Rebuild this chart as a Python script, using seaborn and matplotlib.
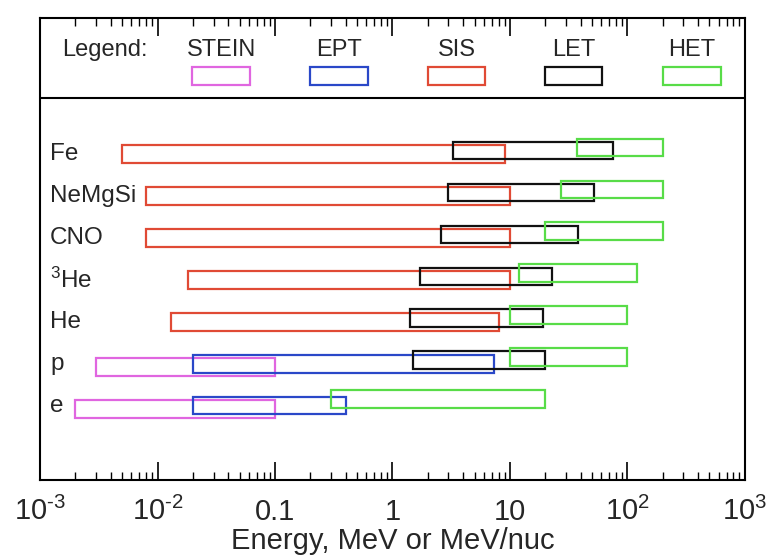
import numpy as np
import matplotlib
matplotlib.use("Agg")
import matplotlib.pyplot as plt
import seaborn as sns

nan = np.nan

## rows, top to bottom
species = ["Fe", "NeMgSi", "CNO", "$^{3}$He", "He", "p", "e"]

## energy ranges per instrument (MeV or MeV/nuc), nan = not covered
stein_lo = [nan, nan, nan, nan, nan, 0.003, 0.002]
stein_hi = [nan, nan, nan, nan, nan, 0.1, 0.1]
ept_lo = [nan, nan, nan, nan, nan, 0.02, 0.02]
ept_hi = [nan, nan, nan, nan, nan, 7.3, 0.4]
sis_lo = [0.005, 0.008, 0.008, 0.018, 0.013, nan, nan]
sis_hi = [9.0, 10.0, 10.0, 10.0, 8.0, nan, nan]
let_lo = [3.3, 3.0, 2.6, 1.7, 1.4, 1.5, nan]
let_hi = [75.0, 52.0, 38.0, 23.0, 19.0, 20.0, nan]
het_lo = [37.0, 27.0, 20.0, 12.0, 10.0, 10.0, 0.3]
het_hi = [200.0, 200.0, 200.0, 120.0, 100.0, 100.0, 20.0]

instruments = ["STEIN", "EPT", "SIS", "LET", "HET"]
lows = [stein_lo, ept_lo, sis_lo, let_lo, het_lo]
highs = [stein_hi, ept_hi, sis_hi, let_hi, het_hi]
colors = ["#e066e0", "#2a48c8", "#e04a35", "#111111", "#58dc48"]
offsets = [0.0, 0.08, 0.08, 0.165, 0.24]

xticks = [1e-3, 1e-2, 0.1, 1, 10, 100, 1000]
xticklabels = ["$10^{\\text{-}3}$", "$10^{\\text{-}2}$", "0.1", "1", "10",
               "$10^{2}$", "$10^{3}$"]

sns.set_theme(style="white")
plt.rcParams["font.family"] = ["Liberation Sans", "DejaVu Sans"]
plt.rcParams["mathtext.fontset"] = "custom"
plt.rcParams["mathtext.rm"] = "Liberation Sans"
plt.rcParams["mathtext.it"] = "Liberation Sans"
plt.rcParams["mathtext.default"] = "regular"

fig, ax = plt.subplots(figsize=(7.71, 5.58), dpi=100)
fig.subplots_adjust(left=0.052, right=0.966, bottom=0.14, top=0.968)
ax.set_xscale("log")

row_y = np.arange(len(species))[::-1].astype(float)

for k in range(len(instruments)):
    lo = np.array(lows[k])
    hi = np.array(highs[k])
    ok = ~np.isnan(lo)
    ax.barh(row_y[ok] + offsets[k], hi[ok] - lo[ok], left=lo[ok], height=0.42,
            fill=False, edgecolor=colors[k], linewidth=1.6)

ax.set_xlim(1e-3, 1e3)
ax.set_ylim(-1.69, 9.33)
ax.set_yticks([])

## species names
for name, y in zip(species, row_y):
    ax.text(0.014, y + 0.08, name, transform=ax.get_yaxis_transform(),
            ha="left", va="center", fontsize=17.5)

## legend strip at the top
ax.axhline(7.42, color="black", linewidth=1.5)
ax.text(0.031, 0.931, "Legend:", transform=ax.transAxes, ha="left",
        va="center", fontsize=17)
leg_x = [0.257, 0.424, 0.591, 0.757, 0.925]
for k, name in enumerate(instruments):
    ax.text(leg_x[k], 0.931, name, transform=ax.transAxes, ha="center",
            va="center", fontsize=17)
    ax.add_patch(plt.Rectangle((leg_x[k] - 0.041, 0.855), 0.082, 0.039,
                               transform=ax.transAxes, fill=False,
                               edgecolor=colors[k], linewidth=1.6))

ax.set_xticks(xticks)
ax.set_xticklabels(xticklabels, fontsize=21)
ax.tick_params(axis="x", which="both", direction="in", top=True, bottom=True,
               color="black")
ax.tick_params(axis="x", which="major", length=13, width=1.2, pad=29)
ax.tick_params(axis="x", which="minor", length=6, width=1.0)
for lab in ax.get_xticklabels():
    lab.set_va("baseline")

for s in ax.spines.values():
    s.set_color("black")
    s.set_linewidth(1.5)

ax.set_xlabel("Energy, MeV or MeV/nuc", fontsize=21)
ax.xaxis.label.set_va("baseline")
ax.xaxis.set_label_coords(0.5, -0.149)

fig.savefig("out.png", dpi=100)
